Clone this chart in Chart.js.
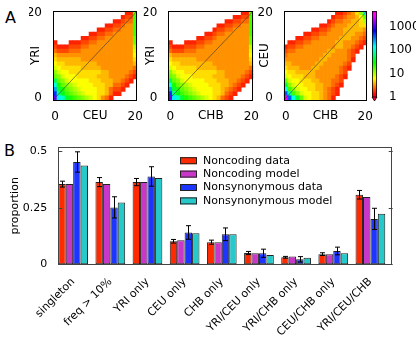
<!DOCTYPE html>
<html>
<head>
<meta charset="utf-8">
<script src="https://cdn.jsdelivr.net/npm/chart.js@4.4.1/dist/chart.umd.min.js"></script>
<style>
  html, body { margin: 0; padding: 0; background: #fff; }
  body { position: relative; width: 416px; height: 338px; overflow: hidden; font-family: "DejaVu Sans", sans-serif; }
  canvas { position: absolute; }
  .tag { position: absolute; font-size: 16px; line-height: 16px; color: #000; }
</style>
</head>
<body>
<div class="tag" style="left:5px; top:10px">A</div>
<div class="tag" style="left:4px; top:143px">B</div>
<canvas id="sfs1" width="145" height="125" style="left:0; top:0"></canvas>
<canvas id="sfs2" width="125" height="125" style="left:140px; top:0"></canvas>
<canvas id="sfs3" width="120" height="125" style="left:255px; top:0"></canvas>
<canvas id="cbar" width="51" height="125" style="left:365px; top:0"></canvas>
<canvas id="bars" width="416" height="208" style="left:0; top:130px"></canvas>
<script>
// ===== A: 联合频谱 =====
// 每行一个字符串，第一行 = y 轴 20，最后一行 = y 轴 0；列 = x 轴 0..20（空格只是分组）
// 字符 = 计数等级，0.1 个数量级一档（36 进制）：0 → 1, a → 10, k → 100, u → 1000；'.' = 没有位点
const YRI_CEU = [
  '....... ....... ....22c',
  '....... ....... ...233d',
  '....... ....... .22344d',
  '....... ......2 233455d',
  '....... ....223 344555d',
  '....... ..22334 455555d',
  '....... 2233445 555555c',
  '2...222 3344555 555555c',
  '3222333 4455555 555555a',
  '4333444 5555555 5555559',
  '6555555 5555555 5555558',
  '7666666 5555555 5555557',
  '8776666 6666555 5555556',
  '9877777 6666655 5555554',
  'b988777 7777766 5555543',
  'cb98887 7777666 5555432',
  'hcb9888 8877766 655432.',
  'lecba98 8887776 64432..',
  'ogecba9 8888776 4332...',
  'rifdcba 9888776 422....',
  'vmkgedc ba98754 2......'
];
const YRI_CHB = [
  '....... ....... ....22c',
  '....... ....... ..2233d',
  '....... ....... 223344d',
  '....... .....22 334455d',
  '....... ....233 445555d',
  '....... ..22344 555555d',
  '....... 2233455 555555c',
  '2...222 3344555 555555c',
  '3222333 4455555 555555a',
  '4333444 5555555 5555559',
  '6555555 5555555 5555558',
  '7666666 5555555 5555557',
  '8776666 6666555 5555556',
  '9877777 6666655 5555554',
  'b988777 7777766 5555543',
  'cb98887 7777666 5555432',
  'hcb9888 8877766 655432.',
  'lecba98 8887776 65432..',
  'ogecba9 8888776 5432...',
  'rifdcba 9888776 432....',
  'vmkgedc ba98764 32.....'
];
const CEU_CHB = [
  '....... ......2 23457bl',
  '....... .....23 345568c',
  '....... ....234 455667a',
  '....... ..22345 5566677',
  '....... 2233455 5666665',
  '.....22 3344555 5666554',
  '...2233 4455555 6665543',
  '.223344 5555556 6555432',
  '2334455 5555556 655432.',
  '3445555 5555665 55432..',
  '4555555 5556655 5543...',
  '5555555 5566555 5542...',
  '6655555 5665555 543....',
  '7666555 6655555 432....',
  '8776666 6555555 43.....',
  '9877766 6555554 32.....',
  'c988777 6655544 3......',
  'gb98877 7665543 2......',
  'ldb9887 7665432 .......',
  'qjdb988 7765432 .......',
  'zqlgc98 776542. .......'
];
const SFS_TICKS = [0, 20];
const CB_TICKS = [1, 10, 100, 1000];
const CB_MAX = 4700;

// ===== B: 各类位点比例 =====
const CATEGORIES = ['singleton', 'freq > 10%', 'YRI only', 'CEU only', 'CHB only',
  'YRI/CEU only', 'YRI/CHB only', 'CEU/CHB only', 'YRI/CEU/CHB'];
const NONCODING_DATA = [0.355, 0.364, 0.364, 0.102, 0.098, 0.050, 0.031, 0.045, 0.308];
const NONCODING_DATA_ERR = [0.013, 0.020, 0.016, 0.008, 0.009, 0.007, 0.004, 0.006, 0.019];
const NONCODING_MODEL = [0.355, 0.355, 0.364, 0.107, 0.098, 0.049, 0.034, 0.045, 0.298];
const NONSYN_DATA = [0.453, 0.252, 0.389, 0.141, 0.133, 0.049, 0.022, 0.059, 0.201];
const NONSYN_DATA_ERR = [0.045, 0.047, 0.043, 0.030, 0.028, 0.018, 0.012, 0.017, 0.047];
const NONSYN_MODEL = [0.437, 0.274, 0.382, 0.138, 0.133, 0.041, 0.029, 0.049, 0.224];
const Y_TICKS = [0, 0.25, 0.5];

Chart.defaults.font.family = '"DejaVu Sans", sans-serif';
Chart.defaults.color = '#000';
Chart.defaults.animation = false;

// gist_rainbow 色带
const RAINBOW = [
  [0.000, 255, 0, 41], [0.030, 255, 0, 0], [0.215, 255, 255, 0], [0.400, 0, 255, 0],
  [0.586, 0, 255, 255], [0.770, 0, 0, 255], [0.954, 255, 0, 255], [1.000, 255, 0, 191]
];
function rainbow(f) {
  f = Math.max(0, Math.min(1, f));
  for (let i = 1; i < RAINBOW.length; i++) {
    const a = RAINBOW[i - 1], b = RAINBOW[i];
    if (f <= b[0]) {
      const t = (f - a[0]) / (b[0] - a[0]);
      const c = [1, 2, 3].map(k => Math.round(a[k] + (b[k] - a[k]) * t));
      return `rgb(${c.join(',')})`;
    }
  }
  return 'rgb(255,0,191)';
}
const countColor = n => rainbow(Math.log10(n) / Math.log10(CB_MAX));

// 图框（可选：y 刻度朝内）
const FramePlugin = {
  id: 'frame',
  afterDatasetsDraw(chart, args, opts) {
    if (!opts || !opts.enabled) return;
    const { ctx, chartArea: a } = chart;
    ctx.save();
    ctx.strokeStyle = opts.color || '#000';
    ctx.lineWidth = opts.width || 1;
    ctx.strokeRect(Math.round(a.left) + 0.5, Math.round(a.top) + 0.5,
      Math.round(a.right - a.left) - 1, Math.round(a.bottom - a.top));
    if (opts.yTicks) {
      const ys = chart.scales.y;
      ctx.beginPath();
      ys.ticks.forEach(t => {
        const py = Math.round(ys.getPixelForValue(t.value)) + 0.5;
        ctx.moveTo(a.left, py); ctx.lineTo(a.left + 4, py);
        ctx.moveTo(a.right - 4, py); ctx.lineTo(a.right, py);
      });
      ctx.stroke();
    }
    ctx.restore();
  }
};

// 误差线：数据集里带 errors 数组的才画
const ErrorBarsPlugin = {
  id: 'errorBars',
  afterDatasetsDraw(chart, args, opts) {
    if (!opts || !opts.enabled) return;
    const { ctx } = chart;
    const ys = chart.scales.y;
    ctx.save();
    ctx.strokeStyle = '#000';
    ctx.lineWidth = 1;
    chart.data.datasets.forEach((ds, di) => {
      if (!ds.errors) return;
      chart.getDatasetMeta(di).data.forEach((bar, i) => {
        const v = ds.data[i].y, e = ds.errors[i];
        const top = ys.getPixelForValue(v + e), bot = ys.getPixelForValue(v - e);
        const x = Math.round(bar.x) + 0.5;
        ctx.beginPath();
        ctx.moveTo(x, top); ctx.lineTo(x, bot);
        ctx.moveTo(x - opts.cap, top); ctx.lineTo(x + opts.cap, top);
        ctx.moveTo(x - opts.cap, bot); ctx.lineTo(x + opts.cap, bot);
        ctx.stroke();
      });
    });
    ctx.restore();
  }
};

// 图内图例（右上角，无边框）
const BoxLegendPlugin = {
  id: 'boxLegend',
  afterDatasetsDraw(chart, args, opts) {
    if (!opts || !opts.enabled) return;
    const { ctx, chartArea: a } = chart;
    ctx.save();
    ctx.font = '11px "DejaVu Sans", sans-serif';
    ctx.textBaseline = 'middle';
    chart.data.datasets.forEach((ds, i) => {
      const x = a.left + opts.left;
      const y = a.top + opts.top + i * opts.step;
      ctx.fillStyle = ds.backgroundColor;
      ctx.fillRect(x, y - 3.5, 17, 7);
      ctx.strokeStyle = '#222';
      ctx.lineWidth = 1;
      ctx.strokeRect(x + 0.5, y - 3, 16, 6);
      ctx.fillStyle = '#000';
      ctx.fillText(ds.label, x + 23, y);
    });
    ctx.restore();
  }
};

Chart.register(FramePlugin, ErrorBarsPlugin, BoxLegendPlugin);

// ===== 频谱热图 =====
function sfsCells(rows) {
  const cells = [];
  rows.forEach((line, r) => {
    const row = line.replace(/ /g, '');
    const y = rows.length - 1 - r;
    for (let x = 0; x < row.length; x++) {
      if (row[x] === '.') continue;
      cells.push({ x, y: [y - 0.5, y + 0.5], n: Math.pow(10, parseInt(row[x], 36) / 10) });
    }
  });
  return cells;
}

function renderSfs(id, rows, xTitle, yTitle, pad) {
  const n = rows.length - 1;
  const axisBase = {
    type: 'linear', min: -0.5, max: n + 0.5, offset: false,
    grid: { display: false }, border: { display: false },
    afterBuildTicks: s => { s.ticks = SFS_TICKS.map(v => ({ value: v })); }
  };
  return new Chart(document.getElementById(id), {
    type: 'bar',
    data: {
      datasets: [
        {
          type: 'line',
          data: [{ x: -0.5, y: -0.5 }, { x: n + 0.5, y: n + 0.5 }],
          borderColor: '#333', borderWidth: 0.6, pointRadius: 0, order: 0
        },
        {
          data: sfsCells(rows),
          backgroundColor: c => (c.raw ? countColor(c.raw.n) : 'transparent'),
          borderWidth: 0, grouped: false, barPercentage: 1, categoryPercentage: 1, order: 1
        }
      ]
    },
    options: {
      responsive: false,
      events: [],
      layout: { padding: { left: pad.left, right: pad.right, top: 11, bottom: 0 } },
      plugins: { legend: { display: false }, tooltip: { enabled: false }, frame: { enabled: true, color: '#000' } },
      scales: {
        x: {
          ...axisBase,
          afterFit: s => { s.height = 25; },
          ticks: { padding: 2, maxRotation: 0, font: { size: 12 }, callback: v => String(v) },
          title: { display: true, text: xTitle, font: { size: 12 }, padding: { top: 0, bottom: 2 } }
        },
        y: {
          ...axisBase,
          afterFit: s => { s.width = pad.axis; },
          ticks: { padding: 3, font: { size: 12 }, callback: v => String(v) },
          title: { display: true, text: yTitle, font: { size: 12 }, padding: { top: 0, bottom: 0 } }
        }
      }
    }
  });
}

renderSfs('sfs1', YRI_CEU, 'CEU', 'YRI', { left: 29, axis: 24, right: 7.7 });
renderSfs('sfs2', YRI_CHB, 'CHB', 'YRI', { left: 3.8, axis: 24.5, right: 11.7 });
renderSfs('sfs3', CEU_CHB, 'CHB', 'CEU', { left: 2.8, axis: 26, right: 7.7 });

// ===== 色标 =====
const MinArrowPlugin = {
  id: 'minArrow',
  afterDatasetsDraw(chart) {
    const { ctx, chartArea: a } = chart;
    ctx.save();
    ctx.beginPath();
    ctx.moveTo(a.left, a.bottom);
    ctx.lineTo(a.right, a.bottom);
    ctx.lineTo((a.left + a.right) / 2, a.bottom + 4);
    ctx.closePath();
    ctx.fillStyle = rainbow(0);
    ctx.fill();
    ctx.strokeStyle = '#000';
    ctx.lineWidth = 0.8;
    ctx.stroke();
    ctx.restore();
  }
};

new Chart(document.getElementById('cbar'), {
  type: 'bar',
  data: {
    labels: [''],
    datasets: [{
      data: [[1, CB_MAX]],
      backgroundColor: c => {
        const a = c.chart.chartArea;
        if (!a) return rainbow(0);
        const g = c.chart.ctx.createLinearGradient(0, a.bottom, 0, a.top);
        RAINBOW.forEach(s => g.addColorStop(s[0], `rgb(${s[1]},${s[2]},${s[3]})`));
        return g;
      },
      borderWidth: 0, barPercentage: 1, categoryPercentage: 1
    }]
  },
  options: {
    responsive: false,
    events: [],
    layout: { padding: { left: 7, top: 10, bottom: 28, right: 0 } },
    plugins: { legend: { display: false }, tooltip: { enabled: false }, frame: { enabled: true, color: '#000', width: 0.8 } },
    scales: {
      x: { display: false },
      y: {
        type: 'logarithmic', position: 'right', min: 1, max: CB_MAX,
        grid: { display: false }, border: { display: false },
        afterBuildTicks: s => { s.ticks = CB_TICKS.map(v => ({ value: v })); },
        afterFit: s => { s.width = 39; },
        ticks: { padding: 4, font: { size: 12 }, callback: v => String(v) }
      }
    }
  },
  plugins: [MinArrowPlugin]
});

// ===== B: 分组柱状图 =====
const barSet = (label, values, color, errors) => ({
  label,
  data: values.map((v, i) => ({ x: i + 0.4, y: v })),
  errors,
  backgroundColor: color,
  borderColor: '#222',
  borderWidth: 1,
  borderSkipped: false,
  categoryPercentage: 0.8,
  barPercentage: 1
});

new Chart(document.getElementById('bars'), {
  type: 'bar',
  data: {
    datasets: [
      barSet('Noncoding data', NONCODING_DATA, '#ff2a00', NONCODING_DATA_ERR),
      barSet('Noncoding model', NONCODING_MODEL, '#c837c8'),
      barSet('Nonsynonymous data', NONSYN_DATA, '#1c35ff', NONSYN_DATA_ERR),
      barSet('Nonsynonymous model', NONSYN_MODEL, '#26c9c9')
    ]
  },
  options: {
    responsive: false,
    events: [],
    layout: { padding: { left: 9, right: 23.3, top: 17.3, bottom: 0 } },
    plugins: {
      legend: { display: false },
      tooltip: { enabled: false },
      frame: { enabled: true, color: '#444', yTicks: true },
      errorBars: { enabled: true, cap: 2.5 },
      boxLegend: { enabled: true, left: 121.7, top: 13.4, step: 13.4 }
    },
    scales: {
      x: {
        type: 'linear', min: 0, max: CATEGORIES.length, offset: false,
        grid: { display: false }, border: { display: false },
        afterBuildTicks: s => { s.ticks = CATEGORIES.map((_, i) => ({ value: i + 0.4 })); },
        afterFit: s => { s.height = 73.7; },
        ticks: {
          autoSkip: false, minRotation: 45, maxRotation: 45, padding: 3,
          font: { size: 11 }, callback: (v, i) => CATEGORIES[i]
        }
      },
      y: {
        min: 0, max: 0.518,
        grid: { display: false }, border: { display: false },
        afterBuildTicks: s => { s.ticks = Y_TICKS.map(v => ({ value: v })); },
        afterFit: s => { s.width = 49.3; },
        ticks: { padding: 3, font: { size: 11 }, callback: v => String(v) },
        title: { display: true, text: 'proportion', font: { size: 11 }, padding: { top: 0, bottom: 0 } }
      }
    }
  }
});
</script>
</body>
</html>
